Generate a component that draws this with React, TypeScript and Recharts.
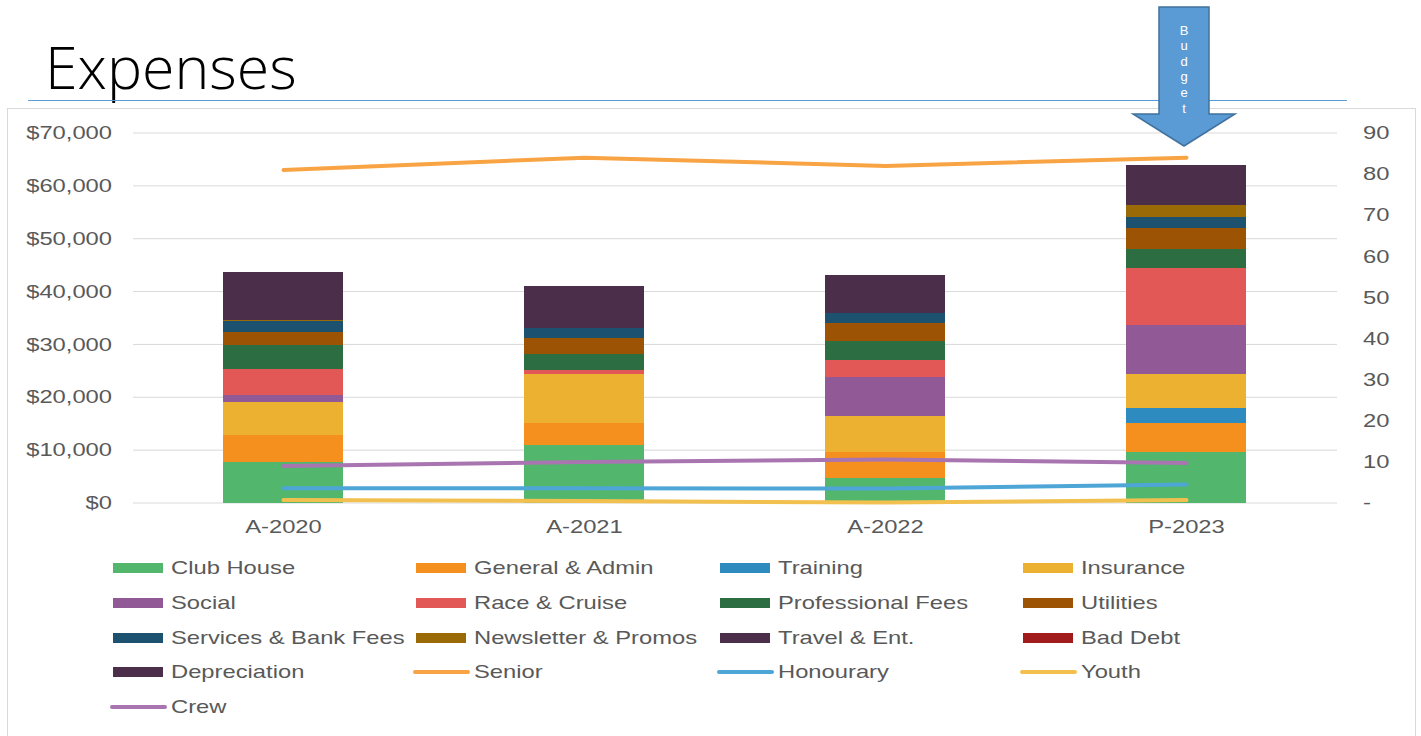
import React from "react";
import {
  ComposedChart,
  Bar,
  Line,
  XAxis,
  YAxis,
  CartesianGrid,
} from "recharts";

const categories = ["A-2020", "A-2021", "A-2022", "P-2023"];

// expense categories (stacked, left axis $)
const clubHouse = [7700, 10900, 4800, 9700];
const generalAdmin = [5200, 4200, 4900, 5500];
const training = [0, 0, 0, 2800];
const insurance = [6200, 9300, 6700, 6500];
const social = [1300, 0, 7500, 9100];
const raceCruise = [4900, 800, 3200, 10900];
const professionalFees = [4500, 3000, 3600, 3600];
const utilities = [2600, 3000, 3300, 4000];
const servicesBankFees = [2000, 1900, 2000, 2100];
const newsletterPromos = [300, 0, 0, 2200];
const travelEnt = [3000, 3000, 2500, 3000];
const badDebt = [0, 0, 0, 0];
const depreciation = [5950, 5000, 4600, 4500];

// member counts (lines, right axis)
const senior = [81, 84, 82, 84];
const honourary = [3.6, 3.6, 3.5, 4.5];
const youth = [0.7, 0.5, 0.1, 0.7];
const crew = [9, 10, 10.6, 9.7];

const leftTicks = [0, 10000, 20000, 30000, 40000, 50000, 60000, 70000];
const rightTicks = [0, 10, 20, 30, 40, 50, 60, 70, 80, 90];

type Series = { key: string; name: string; values: number[]; color: string; kind: "bar" | "line" };

const series: Series[] = [
  { key: "clubHouse", name: "Club House", values: clubHouse, color: "#52B76C", kind: "bar" },
  { key: "generalAdmin", name: "General & Admin", values: generalAdmin, color: "#F58F1E", kind: "bar" },
  { key: "training", name: "Training", values: training, color: "#2E8BC0", kind: "bar" },
  { key: "insurance", name: "Insurance", values: insurance, color: "#EDB131", kind: "bar" },
  { key: "social", name: "Social", values: social, color: "#915A97", kind: "bar" },
  { key: "raceCruise", name: "Race & Cruise", values: raceCruise, color: "#E25856", kind: "bar" },
  { key: "professionalFees", name: "Professional Fees", values: professionalFees, color: "#2C6E41", kind: "bar" },
  { key: "utilities", name: "Utilities", values: utilities, color: "#9C5404", kind: "bar" },
  { key: "servicesBankFees", name: "Services & Bank Fees", values: servicesBankFees, color: "#1C5170", kind: "bar" },
  { key: "newsletterPromos", name: "Newsletter & Promos", values: newsletterPromos, color: "#9A6A06", kind: "bar" },
  { key: "travelEnt", name: "Travel & Ent.", values: travelEnt, color: "#4A2E4A", kind: "bar" },
  { key: "badDebt", name: "Bad Debt", values: badDebt, color: "#A11B1C", kind: "bar" },
  { key: "depreciation", name: "Depreciation", values: depreciation, color: "#4A2E4A", kind: "bar" },
  { key: "senior", name: "Senior", values: senior, color: "#F9A444", kind: "line" },
  { key: "honourary", name: "Honourary", values: honourary, color: "#4DA6D6", kind: "line" },
  { key: "youth", name: "Youth", values: youth, color: "#F2C04E", kind: "line" },
  { key: "crew", name: "Crew", values: crew, color: "#A875B0", kind: "line" },
];

const data = categories.map((name, i) => {
  const row: Record<string, string | number> = { name };
  series.forEach((s) => {
    row[s.key] = s.values[i];
  });
  return row;
});

const FONT = "'Liberation Sans', Arial, sans-serif";
const TEXT = "#595959";
const SX = 1.25;

const money = (v: number) => "$" + v.toLocaleString("en-US");
const count = (v: number) => (v === 0 ? "-" : String(v));

function makeTick(anchor: "start" | "middle" | "end", dx: number, dy: number, fmt: (v: number) => string) {
  return (props: any) => {
    const { x, y, payload } = props;
    return (
      <g transform={`translate(${x + dx} ${y + dy})`}>
        <text
          transform={`scale(${SX} 1)`}
          textAnchor={anchor}
          dominantBaseline="central"
          fill={TEXT}
          fontSize={19}
          fontFamily={FONT}
        >
          {fmt(payload.value)}
        </text>
      </g>
    );
  };
}

function Legend() {
  return (
    <>
      {series.map((s, i) => {
        const col = i % 4;
        const row = Math.floor(i / 4);
        const left = 113 + col * 303.3;
        const cy = 568 + row * 34.8;
        return (
          <div key={s.key}>
            {s.kind === "bar" ? (
              <div
                style={{
                  position: "absolute",
                  left,
                  top: cy - 5,
                  width: 50,
                  height: 10,
                  background: s.color,
                }}
              />
            ) : (
              <div
                style={{
                  position: "absolute",
                  left: left - 3,
                  top: cy - 2,
                  width: 57,
                  height: 4,
                  borderRadius: 2,
                  background: s.color,
                }}
              />
            )}
            <span
              style={{
                position: "absolute",
                left: left + 58,
                top: cy - 12,
                height: 24,
                lineHeight: "24px",
                fontFamily: FONT,
                fontSize: 19,
                color: TEXT,
                whiteSpace: "nowrap",
                transform: `scaleX(${SX})`,
                transformOrigin: "left center",
              }}
            >
              {s.name}
            </span>
          </div>
        );
      })}
    </>
  );
}

export default function App() {
  const letters = "Budget".split("");
  return (
    <div
      style={{
        position: "absolute",
        left: 0,
        top: 0,
        width: 1421,
        height: 736,
        overflow: "hidden",
        background: "#fff",
      }}
    >
      <div
        style={{
          position: "absolute",
          left: 7,
          top: 108,
          width: 1407,
          height: 660,
          border: "1px solid #D9D9D9",
        }}
      />
      <div style={{ position: "absolute", left: 0, top: 0 }}>
        <ComposedChart
          width={1421}
          height={736}
          data={data}
          margin={{ top: 133, right: 0, bottom: 203, left: 0 }}
          barCategoryGap="30%"
        >
          <CartesianGrid vertical={false} stroke="#D9D9D9" yAxisId="left" />
          <XAxis
            dataKey="name"
            axisLine={false}
            tickLine={false}
            tickSize={0}
            tickMargin={0}
            height={30}
            tick={makeTick("middle", 0, 24, (v: any) => String(v))}
          />
          <YAxis
            yAxisId="left"
            orientation="left"
            width={133}
            domain={[0, 70000]}
            ticks={leftTicks}
            axisLine={false}
            tickLine={false}
            tickSize={0}
            tickMargin={0}
            tick={makeTick("end", -21, 0, money)}
          />
          <YAxis
            yAxisId="right"
            orientation="right"
            width={84}
            domain={[0, 90]}
            ticks={rightTicks}
            axisLine={false}
            tickLine={false}
            tickSize={0}
            tickMargin={0}
            tick={makeTick("start", 26, 0, count)}
          />
          {series
            .filter((s) => s.kind === "bar")
            .map((s) => (
              <Bar
                key={s.key}
                dataKey={s.key}
                name={s.name}
                stackId="exp"
                yAxisId="left"
                fill={s.color}
                shapeRendering="crispEdges"
                isAnimationActive={false}
              />
            ))}
          {series
            .filter((s) => s.kind === "line")
            .map((s) => (
              <Line
                key={s.key}
                dataKey={s.key}
                name={s.name}
                yAxisId="right"
                type="linear"
                stroke={s.color}
                strokeWidth={4}
                strokeLinecap="round"
                dot={false}
                activeDot={false}
                isAnimationActive={false}
              />
            ))}
        </ComposedChart>
      </div>
      <Legend />
      <svg
        width={1421}
        height={736}
        style={{ position: "absolute", left: 0, top: 0, pointerEvents: "none" }}
      >
        <text
          x={45}
          y={89}
          fontFamily="'Open Sans', 'Liberation Sans', sans-serif"
          fontWeight={300}
          fontSize={59}
          fill="#000"
        >
          Expenses
        </text>
        <line x1={28} x2={1347} y1={100.5} y2={100.5} stroke="#5B9BD5" strokeWidth={1} />
        <polygon
          points="1159,7 1209,7 1209,114 1235,114 1184,146 1133,114 1159,114"
          fill="#5B9BD5"
          stroke="#41719C"
          strokeWidth={1.5}
        />
        {letters.map((ch, i) => (
          <text
            key={i}
            x={1184}
            y={30 + i * 15.6}
            textAnchor="middle"
            dominantBaseline="central"
            fontFamily={FONT}
            fontSize={13}
            fill="#fff"
          >
            {ch}
          </text>
        ))}
      </svg>
    </div>
  );
}
